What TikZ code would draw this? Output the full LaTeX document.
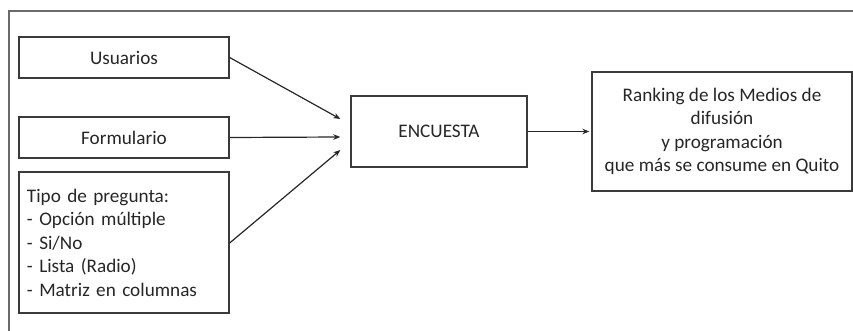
\documentclass[tikz,border=0pt]{standalone}
\usepackage{fontspec}
\setmainfont{Carlito}
\usepackage{tikz}
\usetikzlibrary{arrows.meta}
\definecolor{framegray}{HTML}{6A6A6A}
\definecolor{linegray}{HTML}{3A3A3A}
\tikzstyle{block}=[draw=linegray, line width=1.3pt, inner sep=0pt, align=center, text=black!85, font=\fontsize{19.2}{23.5}\selectfont]
\tikzstyle{inbox}=[block, minimum width=210pt, minimum height=41pt]
\tikzstyle{listbox}=[block, minimum width=210pt, minimum height=141pt, text width=194pt, align=left]
\tikzstyle{flow}=[draw=black!85, line width=1.2pt, -{Stealth[length=7pt,width=5.5pt]}]

\begin{document}
\begin{tikzpicture}[x=1pt, y=1pt]
        \useasboundingbox (0,0) rectangle (853,-331);
        \clip (0,0) rectangle (853,-331);
        \draw[framegray, line width=1.2pt] (9,-340) -- (9,-11) -- (870,-11);
        \node[inbox] (usuarios) at (124,-57.5) {Usuarios};
        \node[inbox] (formulario) at (124,-137.5) {Formulario};
        \node[listbox] (tipo) at (124,-242.5) {Tipo de pregunta:\\- Opción múltiple\\- Si/No\\- Lista (Radio)\\- Matriz en columnas};
        \node[block, minimum width=176pt, minimum height=71pt] (encuesta) at (439,-131.5) {ENCUESTA};
        \node[block, minimum width=260pt, minimum height=119pt] (ranking) at (722,-131.5) {Ranking de los Medios de\\difusión\\y programación\\que más se consume en Quito};
        \draw[flow] (usuarios.east) -- ([shift={(-10,12.5)}]encuesta.west);
        \draw[flow] (formulario.east) -- ([shift={(-10,-5.5)}]encuesta.west);
        \draw[flow] ([yshift=-0.5]tipo.east) -- ([shift={(-10,-18.5)}]encuesta.west);
        \draw[flow, shorten >=2pt] (encuesta.east) -- (ranking.west);
    \end{tikzpicture}
\end{document}
